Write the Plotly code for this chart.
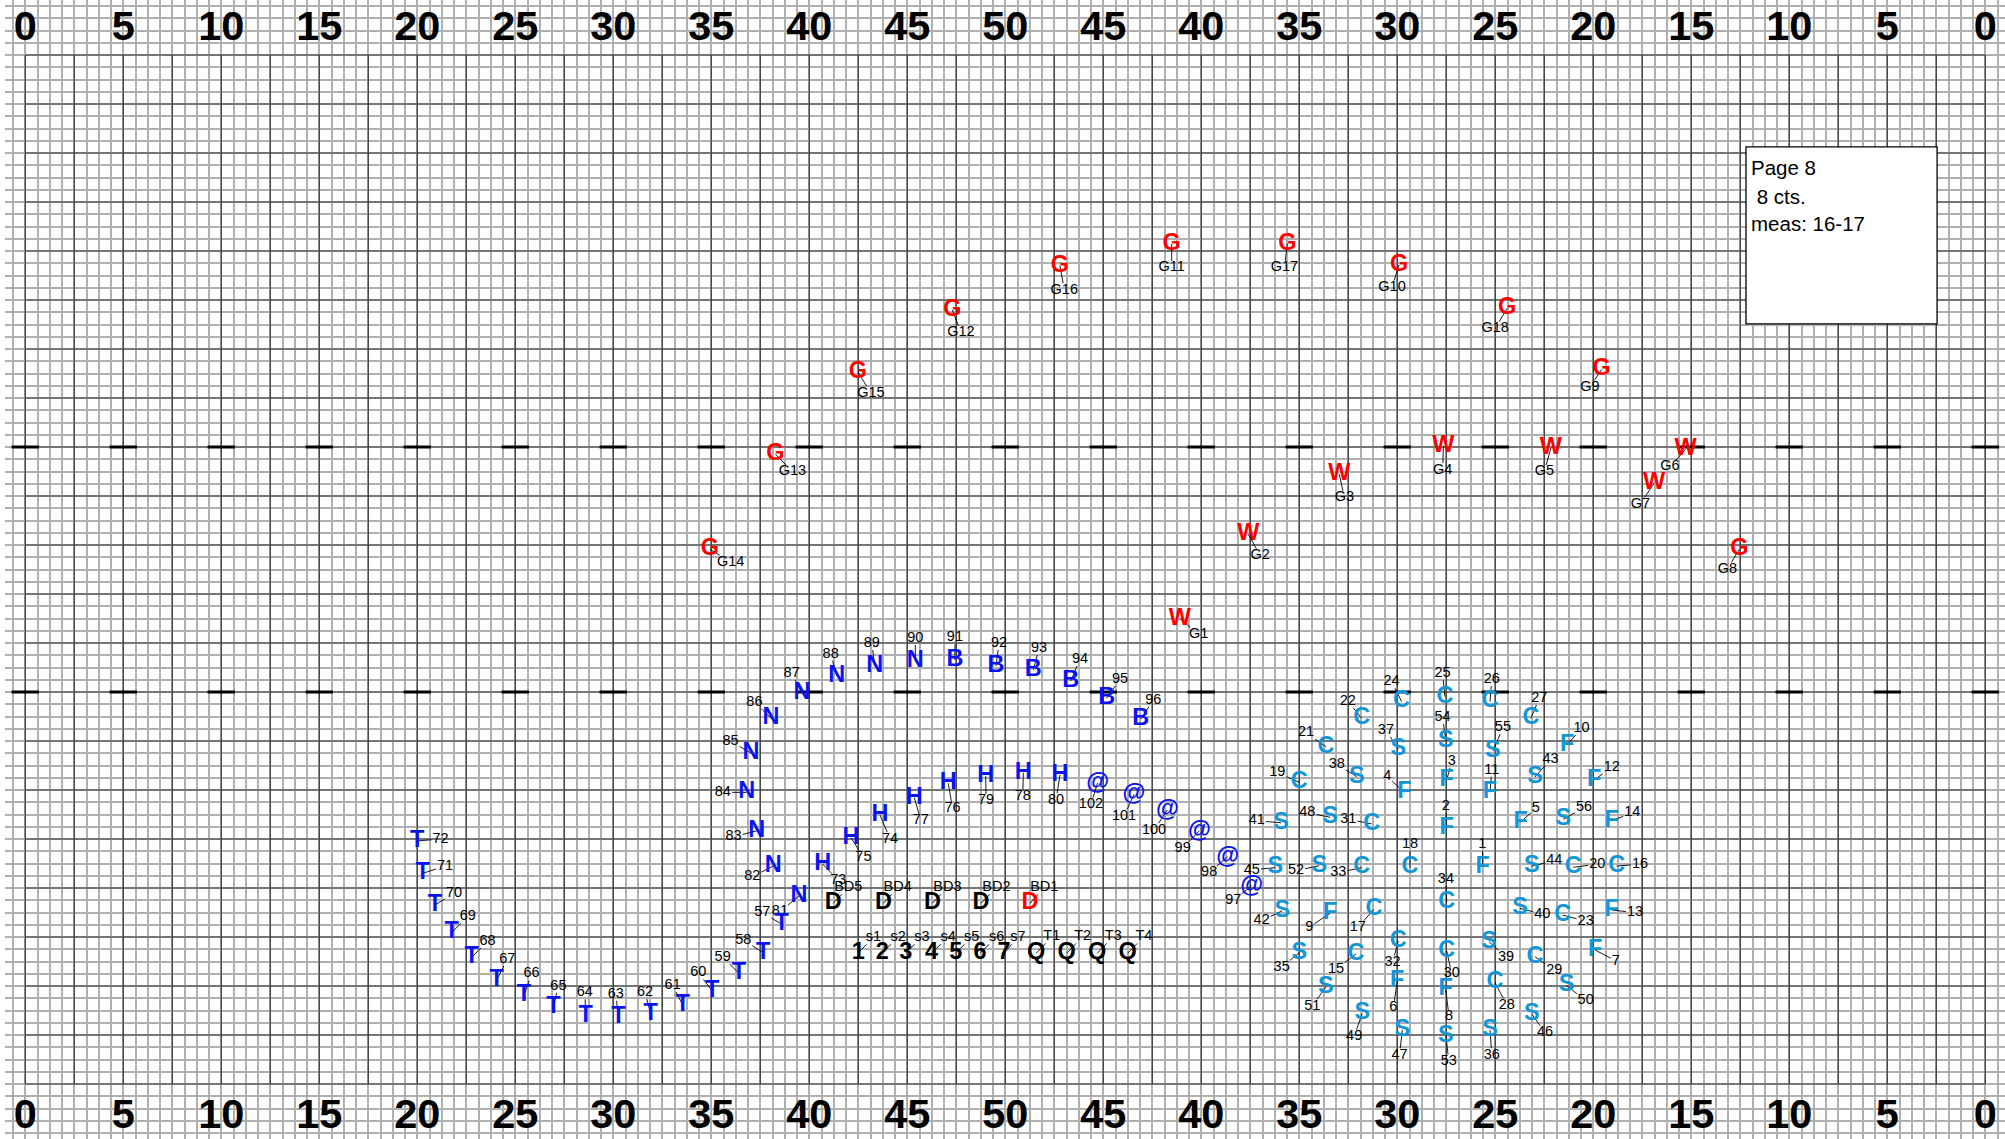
import numpy as np
import plotly.graph_objects as go

# ---------------- field / chart data ----------------
yard_lines = [0, 5, 10, 15, 20, 25, 30, 35, 40, 45, 50, 55, 60, 65, 70, 75, 80, 85, 90, 95, 100]
yard_text = ["0", "5", "10", "15", "20", "25", "30", "35", "40", "45", "50",
             "45", "40", "35", "30", "25", "20", "15", "10", "5", "0"]
hash_rows = [20.0, 32.5]
field_len = 100.0
field_wid = 52.5
step = 0.625
major = 2.5

page_info = ["Page 8", "\u00a08 cts.", "meas: 16-17"]

# red: guard (G, W) + bass drum 1
red_sym = ["G", "G", "G", "G", "G", "G", "G", "G", "G", "G", "G", "W", "W", "W", "W", "W", "W", "W", "D"]
red_lbl = ["G8", "G9", "G10", "G11", "G12", "G13", "G14", "G15", "G16", "G17", "G18",
           "G1", "G2", "G3", "G4", "G5", "G6", "G7", "BD1"]
red_x = [87.45, 80.43, 70.09, 58.49, 47.30, 38.27, 34.93, 42.48, 52.79, 64.39, 75.60,
         58.91, 62.40, 67.04, 72.35, 77.84, 84.71, 83.10, 51.26]
red_y = [27.28, 36.46, 41.79, 42.87, 39.49, 32.14, 27.28, 36.33, 41.75, 42.87, 39.57,
         23.74, 28.05, 31.11, 32.57, 32.46, 32.38, 30.65, 9.22]
red_ldx = [-0.61, -0.60, -0.36, 0.00, 0.44, 0.87, 1.06, 0.66, 0.22, -0.15, -0.61,
           0.95, 0.60, 0.26, -0.03, -0.34, -0.80, -0.70, 0.73]
red_ldy = [-1.01, -0.90, -1.14, -1.22, -1.16, -0.90, -0.65, -1.07, -1.24, -1.22, -1.02,
           -0.78, -1.09, -1.19, -1.24, -1.22, -0.89, -1.06, 0.80]

# blue: N, B, H, T, @
blue_sym = ["N"] * 10 + ["B"] * 6 + ["H"] * 8 + ["T"] * 16 + ["@"] * 6
blue_lbl = ["81", "82", "83", "84", "85", "86", "87", "88", "89", "90",
            "91", "92", "93", "94", "95", "96",
            "73", "74", "75", "76", "77", "78", "79", "80",
            "57", "58", "59", "60", "61", "62", "63", "64", "65", "66", "67", "68", "69", "70", "71", "72",
            "97", "98", "99", "100", "101", "102"]
blue_x = [39.47, 38.16, 37.32, 36.81, 37.03, 38.05, 39.63, 41.40, 43.34, 45.41,
          47.43, 49.53, 51.43, 53.34, 55.17, 56.91,
          40.68, 43.61, 42.13, 47.09, 45.36, 50.92, 49.00, 52.79,
          38.59, 37.65, 36.41, 35.04, 33.54, 31.91, 30.26, 28.59, 26.94, 25.44, 24.05, 22.78, 21.76, 20.90, 20.28, 20.00,
          62.57, 61.35, 59.90, 58.27, 56.57, 54.71]
blue_y = [9.59, 11.12, 12.92, 14.88, 16.89, 18.66, 19.93, 20.82, 21.33, 21.55,
          21.63, 21.33, 21.12, 20.56, 19.68, 18.61,
          11.22, 13.72, 12.57, 15.34, 14.61, 15.88, 15.71, 15.77,
          8.16, 6.70, 5.65, 4.76, 4.03, 3.57, 3.43, 3.47, 3.94, 4.51, 5.31, 6.46, 7.74, 9.13, 10.75, 12.40,
          10.12, 11.60, 12.92, 13.98, 14.78, 15.37]
blue_ldx = [-0.97, -1.07, -1.19, -1.22, -1.05, -0.85, -0.53, -0.31, -0.15, 0.00,
            0.00, 0.15, 0.29, 0.47, 0.68, 0.64,
            0.80, 0.51, 0.63, 0.22, 0.33, -0.03, 0.02, -0.20,
            -0.99, -1.02, -0.83, -0.70, -0.51, -0.29, -0.13, -0.04, 0.26, 0.39, 0.54, 0.80, 0.82, 0.97, 1.14, 1.19,
            -0.94, -0.95, -0.85, -0.68, -0.51, -0.34]
blue_ldy = [-0.80, -0.55, -0.31, 0.00, 0.59, 0.83, 1.02, 1.12, 1.16, 1.19,
            1.14, 1.17, 1.11, 1.12, 0.97, 0.98,
            -0.82, -1.22, -1.02, -1.28, -1.17, -1.22, -1.26, -1.28,
            0.58, 0.65, 0.82, 0.92, 1.01, 1.11, 1.16, 1.19, 1.06, 1.11, 1.06, 0.83, 0.80, 0.60, 0.37, 0.10,
            -0.77, -0.82, -0.90, -1.02, -1.11, -1.10]

# light blue: F1-F14, C15-C34, S35-S56
lb_sym = ["F"] * 14 + ["C"] * 20 + ["S"] * 22
lb_lbl = [str(i) for i in range(1, 57)]
lb_x = [74.36, 72.52, 72.52, 70.36, 76.30, 70.00, 80.09, 72.47, 66.57, 78.67, 74.73, 80.04, 80.94, 80.94,
        67.89, 81.19, 68.81, 70.65, 65.00, 78.98, 66.36, 68.18, 78.44, 70.22,
        72.43, 74.73, 76.82, 74.98, 77.03, 72.52, 68.69, 70.05, 68.18, 72.52,
        65.00, 74.73, 70.05, 67.93, 74.68, 76.26, 64.07, 64.13, 77.03, 76.86, 63.78,
        76.86, 70.26, 66.57, 68.21, 78.64, 66.36, 66.02, 72.48, 72.48, 74.88, 78.47]
lb_y = [11.06, 13.05, 15.51, 14.88, 13.38, 5.26, 6.84, 4.83, 8.71, 17.30, 14.88, 15.51, 8.88, 13.42,
        6.63, 11.12, 8.91, 11.04, 15.39, 11.06, 17.21, 18.66, 8.62, 19.51,
        19.76, 19.51, 18.66, 5.18, 6.49, 6.79, 13.27, 7.30, 11.04, 9.27,
        6.70, 2.76, 17.08, 15.68, 7.26, 8.96, 13.33, 8.84, 15.66, 11.12, 11.04,
        3.57, 2.76, 13.61, 3.61, 5.02, 4.96, 11.14, 2.45, 17.50, 16.99, 13.51]
lb_ldx = [-0.02, -0.04, 0.26, -0.87, 0.77, -0.20, 1.06, 0.17, -1.06, 0.73, 0.09, 0.90, 1.19, 1.05,
          -1.02, 1.19, -0.83, 0.00, -1.12, 1.22, -1.02, -0.71, 1.17, -0.51,
          -0.12, 0.09, 0.42, 0.61, 0.98, 0.26, -1.19, -0.29, -1.19, -0.04,
          -0.90, 0.09, -0.63, -1.02, 0.87, 1.14, -1.24, -1.05, 0.79, 1.15, -1.20,
          0.68, -0.15, -1.16, -0.41, 0.97, -0.70, -1.19, 0.15, -0.17, 0.51, 1.06]
lb_ldy = [1.17, 1.10, 0.97, 0.80, 0.68, -1.36, -0.56, -1.40, -0.71, 0.85, 1.14, 0.65, -0.14, 0.42,
          -0.77, 0.09, -0.92, 1.19, 0.49, 0.15, 0.71, 0.88, -0.31, 1.02,
          1.19, 1.14, 1.02, -1.15, -0.68, -1.17, 0.24, -1.09, -0.26, 1.17,
          -0.74, -1.28, 0.98, 0.63, -0.78, -0.29, 0.10, -0.51, 0.92, 0.27, -0.12,
          -0.95, -1.28, 0.23, -1.19, -0.77, -0.98, -0.26, -1.28, 1.21, 1.20, 0.59]

# black: bass drums, snares, quads
blk_sym = ["D", "D", "D", "D", "1", "2", "3", "4", "5", "6", "7", "Q", "Q", "Q", "Q"]
blk_lbl = ["BD5", "BD4", "BD3", "BD2", "s1", "s2", "s3", "s4", "s5", "s6", "s7", "T1", "T2", "T3", "T4"]
blk_x = [41.22, 43.78, 46.28, 48.76, 42.50, 43.72, 44.92, 46.24, 47.47, 48.71, 49.93, 51.57, 53.13, 54.69, 56.24]
blk_y = [9.22, 9.22, 9.22, 9.22, 6.70, 6.70, 6.70, 6.70, 6.70, 6.70, 6.68, 6.67, 6.67, 6.67, 6.67]
blk_ldx = [0.77, 0.73, 0.77, 0.79, 0.77, 0.82, 0.82, 0.85, 0.82, 0.85, 0.71, 0.80, 0.82, 0.82, 0.83]
blk_ldy = [0.80, 0.80, 0.80, 0.80, 0.77, 0.77, 0.77, 0.77, 0.77, 0.77, 0.79, 0.85, 0.85, 0.85, 0.85]

# ---------------- layout constants ----------------
W, H = 2005, 1139
SCALE = 19.6            # px per yard
ML = 5
X0 = -20.3 / SCALE
X1 = X0 + (W - ML) / SCALE
Y0 = -55.0 / SCALE
Y1 = Y0 + H / SCALE

FONT = "Liberation Sans, Arial, Helvetica, sans-serif"
SYM_SIZE = 23.5
LBL_SIZE = 14.5
RED = "#ff0000"
BLUE = "#0a14f0"
LBLUE = "#1296d8"
BLACK = "#000000"

groups = [
    (red_sym, red_lbl, red_x, red_y, red_ldx, red_ldy, RED),
    (blue_sym, blue_lbl, blue_x, blue_y, blue_ldx, blue_ldy, BLUE),
    (lb_sym, lb_lbl, lb_x, lb_y, lb_ldx, lb_ldy, LBLUE),
    (blk_sym, blk_lbl, blk_x, blk_y, blk_ldx, blk_ldy, BLACK),
]

fig = go.Figure()

# dark 2.5-yard grid inside the field
gx, gy = [], []
for v in np.arange(0, field_len + 1e-6, major):
    gx += [v, v, None]
    gy += [0, field_wid, None]
for h in np.arange(0, field_wid + 1e-6, major):
    gx += [0, field_len, None]
    gy += [h, h, None]
fig.add_trace(go.Scatter(x=gx, y=gy, mode="lines", line=dict(color="#3a3a3a", width=1.2),
                         hoverinfo="skip"))

# hash marks
hx, hy = [], []
for yl in yard_lines:
    for hr in hash_rows:
        hx += [yl - 0.7, yl + 0.7, None]
        hy += [hr, hr, None]
fig.add_trace(go.Scatter(x=hx, y=hy, mode="lines", line=dict(color="black", width=3),
                         hoverinfo="skip"))

# leader lines from symbol centre to label box edge
lx, ly = [], []
for sym, lbl, xs, ys, dxs, dys, col in groups:
    for x, y, dx, dy, t in zip(xs, ys, dxs, dys, lbl):
        px, py = dx * SCALE, dy * SCALE
        hw = 0.5 * len(t) * 0.56 * LBL_SIZE + 1.0
        hh = 0.5 * 0.72 * LBL_SIZE + 1.5
        tx = hw / abs(px) if abs(px) > 1e-9 else np.inf
        ty = hh / abs(py) if abs(py) > 1e-9 else np.inf
        f = min(tx, ty, 1.0)
        lx += [x, x + dx * (1 - f), None]
        ly += [y, y + dy * (1 - f), None]
fig.add_trace(go.Scatter(x=lx, y=ly, mode="lines", line=dict(color="black", width=0.9),
                         hoverinfo="skip"))

# labels
for sym, lbl, xs, ys, dxs, dys, col in groups:
    fig.add_trace(go.Scatter(
        x=[a + b for a, b in zip(xs, dxs)], y=[a + b for a, b in zip(ys, dys)],
        mode="text", text=lbl, textposition="middle center",
        textfont=dict(family=FONT, size=LBL_SIZE, color="black"), hoverinfo="skip"))

# symbols
for sym, lbl, xs, ys, dxs, dys, col in groups:
    fig.add_trace(go.Scatter(
        x=xs, y=ys, mode="text", text=sym, textposition="middle center",
        textfont=dict(family=FONT, size=SYM_SIZE, color=col, weight="bold"), hoverinfo="skip"))

# yard numbers top and bottom
fig.add_trace(go.Scatter(
    x=yard_lines + yard_lines,
    y=[field_wid + 1.28] * len(yard_lines) + [-1.73] * len(yard_lines),
    mode="text", text=yard_text + yard_text, textposition="middle center",
    textfont=dict(family=FONT, size=41.5, color="black", weight="bold"), hoverinfo="skip"))

# info box (drawn above the grid) with its text as annotations
fig.add_shape(type="rect", x0=87.79, x1=97.54, y0=38.78, y1=47.81,
              line=dict(color="black", width=1.3), fillcolor="white", layer="above")
for txt, yy in zip(page_info, [46.76, 45.27, 43.91]):
    fig.add_annotation(x=87.93, y=yy, text=txt, showarrow=False, xanchor="left", yanchor="middle",
                       align="left", font=dict(family=FONT, size=20.5, color="black"))

axis_common = dict(showgrid=True, gridcolor="#b0b0b0", gridwidth=1.5, tick0=0, dtick=step,
                   showticklabels=False, ticks="", zeroline=False, showline=False,
                   fixedrange=True)
fig.update_layout(
    width=W, height=H, margin=dict(l=ML, r=0, t=0, b=0, pad=0),
    showlegend=False, plot_bgcolor="white", paper_bgcolor="white",
    xaxis=dict(range=[X0, X1], **axis_common),
    yaxis=dict(range=[Y0, Y1], **axis_common),
)

fig.write_html("out.html", config={"displayModeBar": False},
               post_script="document.body.style.margin='0';document.body.style.overflow='hidden';")
